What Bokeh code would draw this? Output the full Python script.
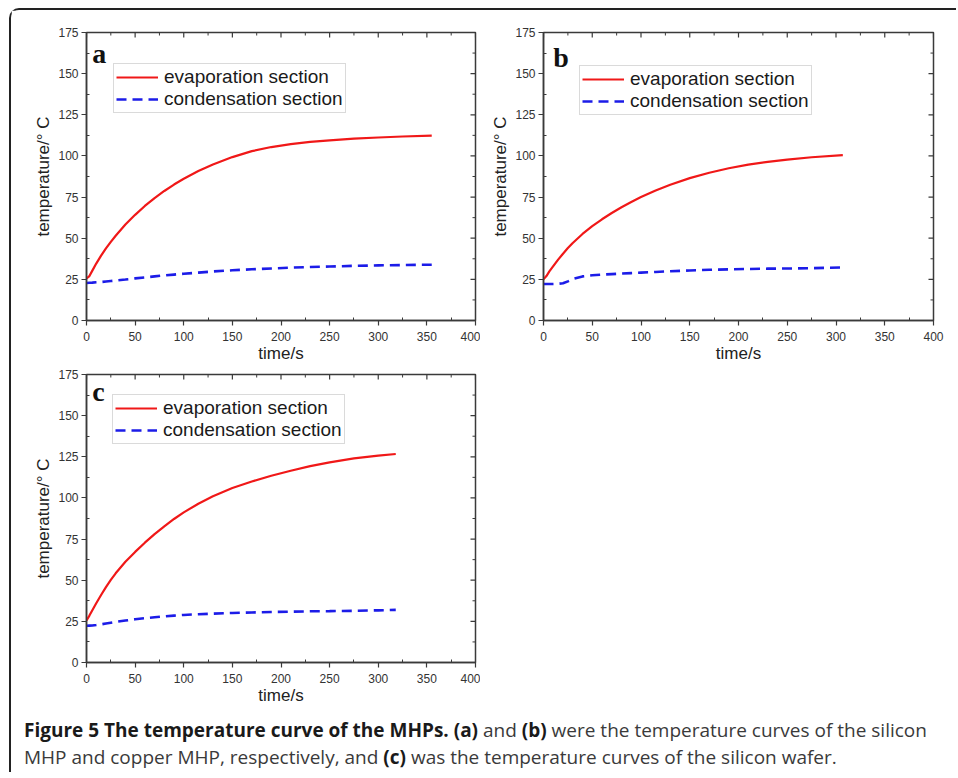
import math
from bokeh.plotting import figure
from bokeh.layouts import column, row
from bokeh.models import Div, Label, Range1d, FixedTicker
from bokeh.embed import file_html
from bokeh.resources import INLINE

# ---------------- data ----------------
x_ticks = [0, 50, 100, 150, 200, 250, 300, 350, 400]
x_minor = [25, 75, 125, 175, 225, 275, 325, 375]
y_ticks = [0, 25, 50, 75, 100, 125, 150, 175]
y_minor = [12.5, 37.5, 62.5, 87.5, 112.5, 137.5, 162.5]

# (a) silicon MHP
t_a = [0, 3, 6, 10, 15, 20, 25, 30, 40, 50, 60, 70, 80, 90, 100, 115, 130, 150,
       170, 190, 210, 230, 250, 275, 300, 325, 355]
evap_a = [25.5, 27, 30.3, 34.6, 39.4, 43.8, 47.8, 51.5, 58.3, 64.2, 69.6, 74.4, 78.7,
          82.6, 86.1, 90.8, 94.8, 99.3, 102.9, 105.4, 107.2, 108.5, 109.5, 110.5,
          111.2, 111.8, 112.3]
cond_a = [22.8, 22.9, 23.0, 23.2, 23.4, 23.7, 24.0, 24.3, 24.9, 25.6, 26.2, 26.8, 27.4,
          27.9, 28.4, 29.1, 29.8, 30.5, 31.1, 31.6, 32.1, 32.5, 32.8, 33.2, 33.5, 33.7, 33.9]

# (b) copper MHP
t_b = [0, 3, 6, 10, 15, 20, 25, 30, 40, 50, 60, 70, 80, 90, 100, 115, 130, 150,
       170, 190, 210, 230, 250, 275, 307]
evap_b = [25, 27, 29.8, 33, 37, 40.6, 44, 47.1, 52.6, 57.3, 61.5, 65.3, 68.8, 72, 75,
          79, 82.5, 86.5, 89.8, 92.5, 94.7, 96.4, 97.8, 99.2, 100.5]
cond_b = [22.2, 22.2, 22.2, 22.2, 22.3, 22.6, 23.8, 25.2, 26.8, 27.5, 27.9, 28.2, 28.5,
          28.8, 29.1, 29.5, 29.9, 30.4, 30.8, 31.1, 31.3, 31.5, 31.6, 31.8, 32.2]

# (c) silicon wafer
t_c = [0, 3, 6, 10, 15, 20, 25, 30, 40, 50, 60, 70, 80, 90, 100, 115, 130, 150,
       170, 190, 210, 230, 250, 275, 300, 318]
evap_c = [25.5, 28.5, 31.8, 36, 41, 45.8, 50.2, 54.2, 61.2, 67.2, 72.8, 78.0, 82.7,
          87.2, 91.2, 96.5, 101, 106, 110, 113.5, 116.5, 119.3, 121.6, 124, 125.7, 126.7]
cond_c = [22.3, 22.4, 22.5, 22.8, 23.2, 23.7, 24.2, 24.7, 25.5, 26.3, 26.9, 27.5, 28,
          28.5, 28.9, 29.3, 29.7, 30.1, 30.4, 30.7, 30.9, 31.1, 31.2, 31.4, 31.7, 32]

series_labels = ["evaporation section", "condensation section"]
x_label = "time/s"
y_label = "temperature/\u00b0 C"
X_MAX, Y_MAX = 400, 175

AX = "#3a3a3a"


def style_axis(ax, major, minor):
    ax.ticker = FixedTicker(ticks=major, minor_ticks=minor)
    ax.axis_line_color = AX
    ax.axis_line_width = 1.5
    ax.major_tick_line_color = AX
    ax.minor_tick_line_color = AX
    ax.major_tick_line_width = 1.2
    ax.minor_tick_line_width = 1.0
    ax.major_tick_out = 5
    ax.major_tick_in = 0
    ax.minor_tick_out = 0
    ax.minor_tick_in = 3
    ax.major_label_standoff = 3
    ax.major_label_text_font = "Liberation Sans"
    ax.major_label_text_font_size = "12px"
    ax.major_label_text_color = "#333333"
    ax.axis_label_text_font = "Liberation Sans"
    ax.axis_label_text_font_style = "normal"
    ax.axis_label_text_color = "#222222"
    ax.axis_label_text_font_size = "17px"


def make_panel(letter, t, evap, cond, ml, fw, mr, mt, mb, leg_xy, letter_xy):
    p = figure(frame_width=fw, frame_height=288,
               x_range=Range1d(0, X_MAX), y_range=Range1d(0, Y_MAX),
               output_backend="svg", toolbar_location=None,
               min_border_left=ml, min_border_right=mr,
               min_border_top=mt, min_border_bottom=mb)
    p.grid.visible = False
    p.outline_line_color = AX
    p.outline_line_width = 1.5
    p.background_fill_color = "white"
    p.border_fill_color = "white"

    # inward ticks on the top and right frame edges
    p.ray(x=x_ticks, y=[Y_MAX] * len(x_ticks), length=5, length_units="screen",
          angle=-math.pi / 2, line_color=AX, line_width=1.2)
    p.ray(x=x_minor, y=[Y_MAX] * len(x_minor), length=3, length_units="screen",
          angle=-math.pi / 2, line_color=AX, line_width=1.0)
    p.ray(x=[X_MAX] * len(y_ticks), y=y_ticks, length=5, length_units="screen",
          angle=math.pi, line_color=AX, line_width=1.2)
    p.ray(x=[X_MAX] * len(y_minor), y=y_minor, length=3, length_units="screen",
          angle=math.pi, line_color=AX, line_width=1.0)

    p.line(t, evap, line_color="#f01818", line_width=2.2, legend_label=series_labels[0])
    p.line(t, cond, line_color="#1c1ce8", line_width=2.6, line_dash="10 6",
           legend_label=series_labels[1])

    p.xaxis.axis_label = x_label
    p.yaxis.axis_label = y_label
    style_axis(p.xaxis[0], x_ticks, x_minor)
    style_axis(p.yaxis[0], y_ticks, y_minor)
    p.xaxis.major_label_standoff = 6
    p.xaxis.axis_label_standoff = 0
    p.yaxis.axis_label_standoff = 2

    lg = p.legend[0]
    lg.location = leg_xy
    lg.label_text_font = "Liberation Sans"
    lg.label_text_font_size = "19px"
    lg.label_text_color = "#1a1a1a"
    lg.glyph_width = 42
    lg.glyph_height = 20
    lg.label_height = 20
    lg.label_standoff = 6
    lg.padding = 2
    lg.spacing = 0
    lg.margin = 0
    lg.border_line_color = "#b5b5b5"
    lg.border_line_width = 1.2
    lg.background_fill_alpha = 1.0

    p.add_layout(Label(x=letter_xy[0], y=letter_xy[1], text=letter,
                       text_font="Liberation Serif", text_font_style="bold",
                       text_font_size="28px", text_color="#111111",
                       text_baseline="alphabetic"))
    return p


pa = make_panel("a", t_a, evap_a, cond_a, 75, 389, 5, 22, 48, (27, 207), (6, 162))
pb = make_panel("b", t_b, evap_b, cond_b, 63, 390, 23, 22, 48, (36, 205), (10, 160))
pc = make_panel("c", t_c, evap_c, cond_c, 75, 389, 5, 6, 48, (26, 218), (6, 164.5))

caption = Div(
    text=("<b style='color:#1a1a1a'>Figure 5 The temperature curve of the MHPs.</b> "
          "<b style='color:#1a1a1a'>(a)</b> and <b style='color:#1a1a1a'>(b)</b> were the temperature "
          "curves of the silicon<br>MHP and copper MHP, respectively, and "
          "<b style='color:#1a1a1a'>(c)</b> was the temperature curves of the silicon wafer."),
    width=945, height=62, margin=0,
    styles={"font-family": "'Open Sans'", "font-size": "19px", "color": "#3a3a3a",
            "line-height": "27px", "padding-left": "13px", "padding-top": "7px",
            "white-space": "nowrap"},
)

layout = column(row(pa, pb), pc, caption, margin=(8, 0, 0, 9),
                styles={"border-top": "2px solid #222", "border-left": "2px solid #222",
                        "border-top-left-radius": "10px"})

open("out.html", "w").write(file_html(layout, INLINE))
